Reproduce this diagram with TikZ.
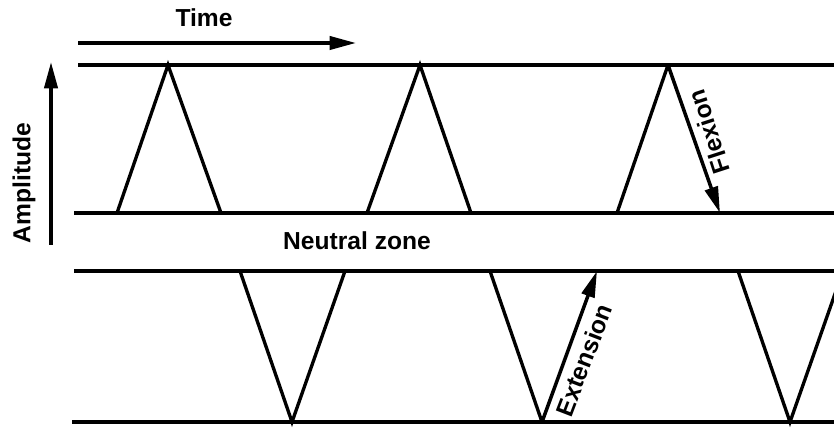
\documentclass[tikz,border=0pt]{standalone}
\usepackage{fontspec}
\setmainfont{Liberation Sans}
\usetikzlibrary{arrows.meta}

\begin{document}
\begin{tikzpicture}[
  x=0.02cm, y=-0.02cm,
  lbl/.style={font=\fontsize{14}{16}\selectfont\bfseries, inner sep=0pt},
  lvl/.style={line width=2pt},
  wave/.style={line width=1.9pt, line join=miter},
  arr/.style={line width=2pt, -{Triangle[length=15pt, width=7.5pt]}}
]
  \useasboundingbox (0,0) rectangle (834,428);
  \clip (0,0) rectangle (834,428);

  % axes
  \coordinate (t0) at (78,43);
  \coordinate (t1) at (356,43);
  \coordinate (a0) at (51,245);
  \coordinate (a1) at (51,62);
  \draw[arr] (t0) -- (t1);
  \draw[arr] (a0) -- (a1);
  \node[lbl] (time) at (204,18) {Time};
  \node[lbl, rotate=90] (amp) at (24,183) {Amplitude};

  % levels
  \coordinate (l1a) at (78,65);  \coordinate (l1b) at (834,65);
  \coordinate (l2a) at (74,213); \coordinate (l2b) at (834,213);
  \coordinate (l3a) at (74,271); \coordinate (l3b) at (834,271);
  \coordinate (l4a) at (72,422); \coordinate (l4b) at (834,422);
  \draw[lvl] (l1a) -- (l1b);
  \draw[lvl] (l2a) -- (l2b);
  \draw[lvl] (l3a) -- (l3b);
  \draw[lvl] (l4a) -- (l4b);
  \node[lbl] (nz) at (357,241) {Neutral zone};

  % flexion peaks
  \draw[wave] (117,213) -- (168,65) -- (221,213);
  \draw[wave] (367,213) -- (420,65) -- (471,213);
  \coordinate (fx0) at (668,65);
  \coordinate (fx1) at (720,213);
  \draw[wave] (617,213) -- (fx0);
  \draw[arr] (fx0) -- (fx1);
  \node[lbl, rotate=108] (flex) at (709,132) {Flexion};

  % extension troughs
  \draw[wave] (240,271) -- (292,422) -- (345,271);
  \coordinate (ex0) at (542,422);
  \coordinate (ex1) at (597,271);
  \draw[wave] (490,271) -- (ex0);
  \draw[arr] (ex0) -- (ex1);
  \node[lbl, rotate=69] (ext) at (584,360) {Extension};
  \draw[wave] (738,271) -- (790,422) -- (843,271);
\end{tikzpicture}
\end{document}
